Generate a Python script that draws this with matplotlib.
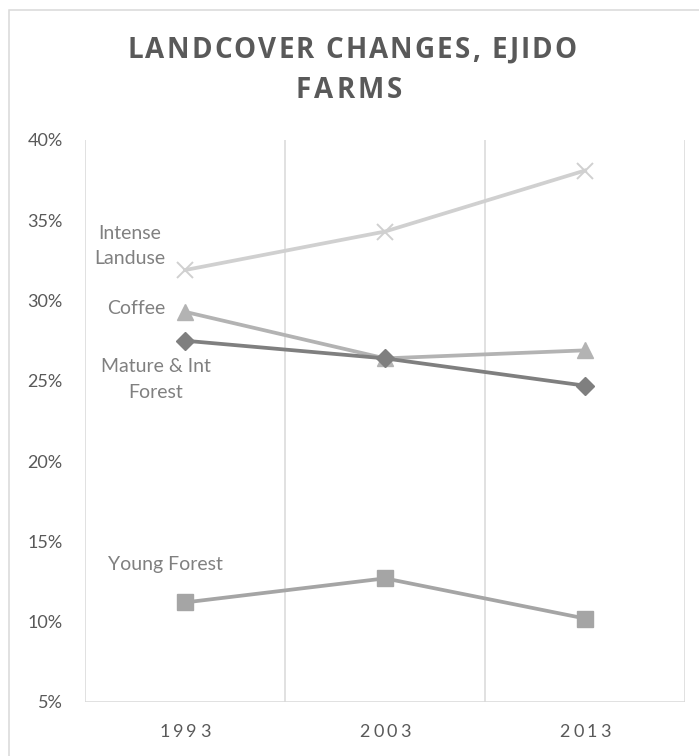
import matplotlib
matplotlib.use("Agg")
import matplotlib.pyplot as plt
from matplotlib.transforms import IdentityTransform
from matplotlib.patches import Rectangle

# ---- data -------------------------------------------------------------
years = ["1993", "2003", "2013"]
intense_landuse = [31.9, 34.3, 38.1]
coffee = [29.3, 26.4, 26.9]
mature_int_forest = [27.5, 26.4, 24.7]
young_forest = [11.2, 12.7, 10.2]
series_names = ["Intense\nLanduse", "Coffee", "Mature & Int\nForest", "Young Forest"]
y_ticks = [5, 10, 15, 20, 25, 30, 35, 40]
title_lines = ["LANDCOVER CHANGES, EJIDO", "FARMS"]

W, H, DPI = 699, 756, 100
fig = plt.figure(figsize=(W / DPI, H / DPI), dpi=DPI)
fig.patch.set_facecolor("white")

GRID = "#d9d9d9"
TICK_COLOR = "#595959"
LABEL_COLOR = "#808080"
FONT = "Lato"

# outer chart frame (extends past the right/bottom edges)
fig.add_artist(Rectangle((9 / W, -0.1), 1.2, 1 - 10 / H + 0.1,
                         transform=fig.transFigure, fill=False,
                         edgecolor=GRID, linewidth=1.1))

# plot area
left, right, top, bottom = 85, 685, 140, 702
ax = fig.add_axes([left / W, (H - bottom) / H, (right - left) / W, (bottom - top) / H])
ax.set_xlim(0, len(years))
ax.set_ylim(min(y_ticks), max(y_ticks))
for s in ax.spines.values():
    s.set_visible(False)
ax.axhline(min(y_ticks), color=GRID, lw=1.1, zorder=1)
for i in range(len(years) + 1):
    ax.axvline(i, color=GRID, lw=1.1, zorder=1)

xs = [i + 0.5 for i in range(len(years))]
styles = [
    (intense_landuse, "#d0d0d0", "x", 12, dict(markeredgewidth=1.4)),
    (coffee, "#b3b3b3", "^", 12, {}),
    (mature_int_forest, "#7f7f7f", "D", 9, {}),
    (young_forest, "#a5a5a5", "s", 11, {}),
]
for vals, col, mk, ms, extra in styles:
    ax.plot(xs, vals, color=col, lw=2.7, marker=mk, markersize=ms,
            markerfacecolor=col, markeredgecolor=col, zorder=3, **extra)

# series labels near the 1993 points
offsets = [(-55, 24), (-49, 3), (-29, -39), (-20, 38)]
for (vals, *_), name, (dx, dy) in zip(styles, series_names, offsets):
    ax.annotate(name, (xs[0], vals[0]), xytext=(dx, dy), textcoords="offset pixels",
                ha="center", va="center", fontsize=14, color=LABEL_COLOR,
                family=FONT, linespacing=1.62)

# y ticks
ax.set_yticks(y_ticks)
ax.set_yticklabels([f"{t}%" for t in y_ticks])
ax.tick_params(axis="y", length=0, pad=16, labelsize=13, labelcolor=TICK_COLOR)
for lab in ax.get_yticklabels():
    lab.set_family(FONT)
ax.set_xticks([])

renderer = fig.canvas.get_renderer()


def spaced_text(cx, cy, s, spacing, target_width=None, **kw):
    """Draw s centred at pixel (cx, cy from top) with extra letter spacing."""
    def width(txt):
        t = fig.text(0, 0, txt, **kw)
        w = t.get_window_extent(renderer).width
        t.remove()
        return w
    space_w = width("n n") - width("nn")
    widths = [space_w if c == " " else width(c) for c in s]
    natural = sum(widths)
    if target_width is not None:
        spacing = (target_width - natural) / (len(s) - 1)
    total = natural + spacing * (len(s) - 1)
    x = cx - total / 2
    for c, w in zip(s, widths):
        if c != " ":
            fig.text(x, H - cy, c, transform=IdentityTransform(),
                     ha="left", va="center", **kw)
        x += w + spacing


# x category labels
for xi, yr in zip(xs, years):
    px = left + xi / len(years) * (right - left)
    spaced_text(px, 732, yr, 3.0, fontsize=13, color=TICK_COLOR, family=FONT)

# title
title_kw = dict(fontsize=20, fontweight="bold", color="#595959", family="Open Sans")
spaced_text(352, 50, title_lines[0], 0, target_width=449, **title_kw)
spaced_text(349, 90, title_lines[1], 3.0, **title_kw)

fig.savefig("out.png", dpi=DPI, facecolor="white")
